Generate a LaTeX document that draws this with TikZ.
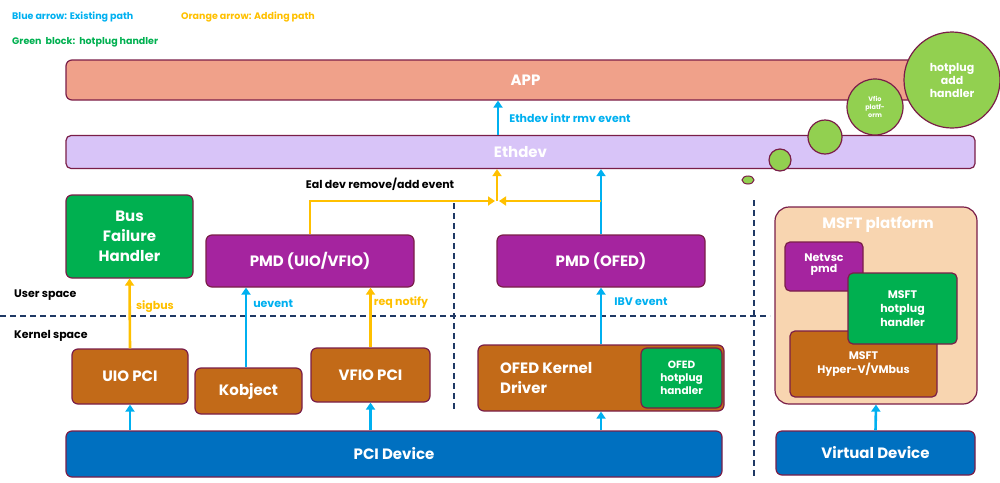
\documentclass[tikz,border=0pt]{standalone}
\usepackage{fontspec}
\setmainfont{Poppins}
\usetikzlibrary{arrows.meta}
\definecolor{bl}{HTML}{00B0F0}
\definecolor{og}{HTML}{FFC000}
\definecolor{gr}{HTML}{00B050}
\definecolor{lg}{HTML}{92D050}
\definecolor{mr}{HTML}{7A1E48}
\definecolor{pu}{HTML}{A5249F}
\definecolor{br}{HTML}{C26A18}
\definecolor{db}{HTML}{0070C0}
\definecolor{nv}{HTML}{1F3864}
\begin{document}
\begin{tikzpicture}[x=1pt,y=-1pt,
 box/.style={draw=mr,line width=1.2pt,rounded corners=6pt,text=white,font=\bfseries,align=center,inner sep=0pt},
 ar/.style={line width=2.6pt,-{Triangle[length=7pt,width=9pt]}},
 circ/.style={draw=mr,line width=1.2pt,fill=lg,circle,inner sep=0pt,text=white,font=\bfseries,align=center},
 lab/.style={font=\bfseries\fontsize{11}{12}\selectfont,anchor=west,inner sep=0pt},
 dsh/.style={draw=nv,line width=1.5pt,dash pattern=on 6pt off 4pt}]
\useasboundingbox (0,0) rectangle (1000,482);
\node[lab,text=bl,font=\bfseries\fontsize{9.5}{11}\selectfont] (l1) at (12,17) {Blue arrow: Existing path};
\node[lab,text=og,font=\bfseries\fontsize{9.5}{11}\selectfont] (l2) at (181,17) {Orange arrow: Adding path};
\node[lab,text=gr,font=\bfseries\fontsize{9.5}{11}\selectfont] (l3) at (12,42) {Green\ \ block:\ \ hotplug handler};
% layers
\node[box,fill=orange!45!pink,fill={rgb,255:red,240;green,161;blue,138},minimum width=919pt,minimum height=40pt,font=\bfseries\fontsize{15}{16}\selectfont] (app) at (525.5,80) {APP};
\node[box,fill={rgb,255:red,216;green,196;blue,248},minimum width=909pt,minimum height=33pt,font=\bfseries\fontsize{15}{16}\selectfont,rounded corners=5pt] (eth) at (520.5,152) {Ethdev};
% circles
\node[circ,minimum size=96pt,font=\bfseries\fontsize{11}{13}\selectfont] (c1) at (952,80) {hotplug\\add\\handler};
\node[circ,minimum size=56pt,font=\bfseries\fontsize{6.5}{8}\selectfont] (c2) at (875,107) {Vfio\\platf-\\orm};
\node[circ,minimum size=34pt] (c3) at (825,137) {};
\node[circ,minimum size=22pt] (c4) at (780,160) {};
\node[circ,circle,minimum size=0pt,draw=none,fill=none] (c5) at (748,180) {};
\draw[mr,line width=1pt,fill=lg] (748,180) ellipse (6pt and 4pt);
% dashed lines
\draw[dsh] (0,316) -- (770,316);
\draw[dsh] (454,203) -- (454,410);
\draw[dsh] (754,200) -- (754,478);
\node[lab,font=\bfseries\fontsize{11}{12}\selectfont] (us) at (14,295) {User space};
\node[lab,font=\bfseries\fontsize{11}{12}\selectfont] (ks) at (14,336) {Kernel space};
% user boxes
\node[box,fill=gr,minimum width=127pt,minimum height=83pt,font=\bfseries\fontsize{15}{20}\selectfont] (bus) at (129.5,236.5) {Bus\\Failure\\Handler};
\node[box,fill=pu,minimum width=208pt,minimum height=52pt,font=\bfseries\fontsize{15}{16}\selectfont] (pmd1) at (310,261) {PMD (UIO/VFIO)};
\node[box,fill=pu,minimum width=208pt,minimum height=52pt,font=\bfseries\fontsize{15}{16}\selectfont] (pmd2) at (601,261) {PMD (OFED)};
% kernel boxes
\node[box,fill=br,minimum width=116pt,minimum height=55pt,font=\bfseries\fontsize{15}{16}\selectfont] (uio) at (130,376.5) {UIO PCI};
\node[box,fill=br,minimum width=107pt,minimum height=46pt,font=\bfseries\fontsize{15}{16}\selectfont] (kob) at (248.5,391) {Kobject};
\node[box,fill=br,minimum width=119pt,minimum height=54pt,font=\bfseries\fontsize{15}{16}\selectfont] (vfio) at (370.5,375) {VFIO PCI};
\node[box,fill=br,minimum width=246pt,minimum height=66pt] (ofed) at (601,378) {};
\node[font=\bfseries\fontsize{15}{20}\selectfont,text=white,align=left,anchor=west,inner sep=0pt] (ofedt) at (500,378) {OFED Kernel\\Driver};
\node[box,fill=gr,minimum width=81pt,minimum height=60pt,font=\bfseries\fontsize{10.5}{13}\selectfont] (ofh) at (681.5,378) {OFED\\hotplug\\handler};
\node[box,fill=db,minimum width=656pt,minimum height=46pt,font=\bfseries\fontsize{15}{16}\selectfont] (pci) at (394,454) {PCI Device};
\node[box,fill=db,minimum width=199pt,minimum height=44pt,font=\bfseries\fontsize{15}{16}\selectfont] (vd) at (875.5,453) {Virtual Device};
% MSFT
\node[box,fill={rgb,255:red,248;green,213;blue,176},minimum width=202pt,minimum height=197pt,rounded corners=14pt] (ms) at (876,305.5) {};
\node[font=\bfseries\fontsize{15}{16}\selectfont,text=white,inner sep=0pt] (mst) at (878,225) {MSFT platform};
\node[box,fill=pu,minimum width=78pt,minimum height=49pt,font=\bfseries\fontsize{11}{14}\selectfont,rounded corners=5pt] (net) at (824,266.5) {\raisebox{6pt}{\shortstack{Netvsc\\pmd}}};
\node[box,fill=br,minimum width=147pt,minimum height=66pt,font=\bfseries\fontsize{11}{14}\selectfont,rounded corners=5pt] (hv) at (863.5,364) {\raisebox{-8pt}{\shortstack{MSFT\\Hyper-V/VMbus}}};
\node[box,fill=gr,minimum width=109pt,minimum height=71pt,font=\bfseries\fontsize{11}{14}\selectfont,rounded corners=5pt] (mh) at (902.5,308.5) {MSFT\\hotplug\\handler};
% arrows
\draw[ar,bl] (pci.north -| uio) -- (uio.south);
\draw[ar,bl] (pci.north -| vfio) -- (vfio.south);
\draw[ar,bl] (pci.north -| ofed) -- (ofed.south);
\draw[ar,bl] (vd.north) -- (ms.south);
\draw[ar,og] (uio.north) -- (bus.south) node[pos=0.6,lab,right=5pt] {sigbus};
\draw[ar,bl] (kob.north -| 246,0) -- (pmd1.south -| 246,0) node[pos=0.8,lab,right=6pt] {uevent};
\draw[ar,og] (vfio.north) -- (pmd1.south -| vfio) node[pos=0.75,lab,right=2pt] {req notify};
\draw[ar,bl] (ofed.north) -- (pmd2.south) node[pos=0.75,lab,right=12pt] {IBV event};
\draw[ar,bl] (pmd2.north) -- (eth.south -| pmd2);
\coordinate (j) at (497,201);
\draw[ar,og] (pmd1.north -| 310,0) |- ([xshift=-2pt]j);
\draw[ar,og] (601,201) -- ([xshift=2pt]j);
\draw[ar,og] (j) -- (eth.south -| j);
\node[font=\bfseries\fontsize{11}{12}\selectfont,inner sep=0pt] (eal) at (380,184) {Eal dev remove/add event};
\draw[ar,bl] (eth.north -| 498,0) -- (app.south -| 498,0) node[midway,lab,right=10pt] {Ethdev intr rmv event};
\end{tikzpicture}
\end{document}
